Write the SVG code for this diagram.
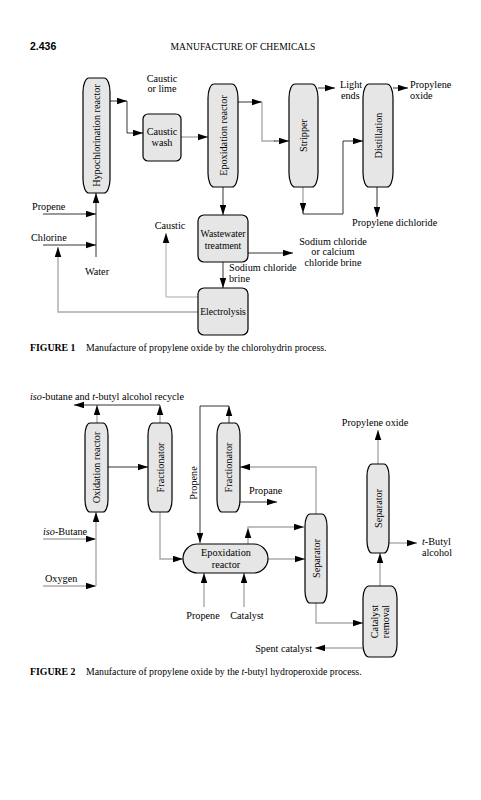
<svg xmlns="http://www.w3.org/2000/svg" width="481" height="800" viewBox="0 0 481 800">
<defs>
<marker id="ah" markerUnits="userSpaceOnUse" markerWidth="11" markerHeight="7" refX="10" refY="3.25" orient="auto"><path d="M0,0 L10,3.25 L0,6.5 z" fill="#000"/></marker>
<style>
text{font-family:"Liberation Serif","Times New Roman",serif;font-size:10.2px;fill:#000}
.c{text-anchor:middle}
.n{font-size:9.7px}
.cap{font-size:9.8px}
.col{fill:#e6e6e6;stroke:#000;stroke-width:1.2}
.box{fill:#e6e6e6;stroke:#000;stroke-width:1.2}
.k{fill:none;stroke:#000;stroke-width:0.8;marker-end:url(#ah)}
.g{fill:none;stroke:#aaa;stroke-width:1.4;marker-end:url(#ah)}
.kn{fill:none;stroke:#000;stroke-width:0.8}
.gn{fill:none;stroke:#aaa;stroke-width:1.4}
</style>
</defs>
<rect width="481" height="800" fill="#fff"/>
<text x="30" y="50" style="font-family:'Liberation Sans',Arial,sans-serif;font-weight:bold;font-size:10.5px">2.436</text>
<text x="243" y="50" class="c" style="font-size:9.6px">MANUFACTURE OF CHEMICALS</text>

<g id="connectors">
<!-- Figure 1 -->
<path class="k" d="M110,101 H127"/>
<path class="k" d="M127,101 V133 H143"/>
<path class="g" d="M181,137 H208"/>
<path class="k" d="M238,102 H262"/>
<path class="gn" d="M262,102 V141 H275"/>
<path class="k" d="M274,141 H289"/>
<path class="k" d="M318,88 H335"/>
<path class="k" d="M393,88 H408"/>
<path class="g" d="M303,187 V213"/>
<path class="k" d="M303,212 V214 H343 V141 H363"/>
<path class="k" d="M377,187 V217"/>
<path class="k" d="M223,187 V215"/>
<path class="k" d="M248,253 H293"/>
<path class="k" d="M223,262 V288"/>
<path class="g" d="M198,297 H166 V233" style="stroke-width:1"/>
<path class="g" d="M198,312 H58 V247"/>
<path class="k" d="M43,214 H96"/>
<path class="k" d="M43,245 H96"/>
<path class="k" d="M96,257 V193"/>
<!-- Figure 2 -->
<path class="g" d="M97,423 V405"/>
<path class="g" d="M160,423 V405"/>
<path class="k" d="M160,405 H74"/>
<path class="k" d="M108,467 H148"/>
<path class="k" d="M229,423 V406"/>
<path class="k" d="M229,406 H200 V543"/>
<path class="k" d="M240,502 H277"/>
<path class="g" d="M316,514 V467 H240"/>
<path class="g" d="M160,512 V559 H183"/>
<path class="g" d="M248,544 V528"/>
<path class="g" d="M248,528 V527 H304"/>
<path class="g" d="M268,559 H305"/>
<path class="g" d="M204,607 V573"/>
<path class="g" d="M244,607 V573"/>
<path class="g" d="M43,539 H96"/>
<path class="g" d="M43,586 H96"/>
<path class="g" d="M96,586 V512"/>
<path class="g" d="M316,603 V623 H363"/>
<path class="g" d="M363,648 H315"/>
<path class="g" d="M380,586 V553"/>
<path class="g" d="M378,464 V430"/>
<path class="g" d="M389,543 H417"/>
</g>

<!-- Figure 1 nodes -->
<g id="hypochlorination-reactor"><rect class="col" x="83" y="78" width="27" height="115" rx="6" ry="14"/><text class="c" transform="translate(96.5,135.5) rotate(-90)" y="3.5">Hypochlorination reactor</text></g>
<g id="caustic-wash"><rect class="box" x="143" y="114" width="38" height="47" rx="5"/><text class="c" x="162" y="135">Caustic</text><text class="c" x="162" y="146">wash</text></g>
<g id="epoxidation-reactor-1"><rect class="col" x="208" y="84" width="30" height="103" rx="6" ry="14"/><text class="c" transform="translate(223,135.5) rotate(-90)" y="3.5">Epoxidation reactor</text></g>
<g id="stripper"><rect class="col" x="289" y="84" width="29" height="103" rx="6" ry="14"/><text class="c" transform="translate(303.5,135.5) rotate(-90)" y="3.5">Stripper</text></g>
<g id="distillation"><rect class="col" x="363" y="84" width="30" height="103" rx="6" ry="14"/><text class="c" transform="translate(378,135.5) rotate(-90)" y="3.5">Distillation</text></g>
<g id="wastewater-treatment"><rect class="box" x="198" y="215" width="50" height="47" rx="6"/><text class="c n" x="223" y="237">Wastewater</text><text class="c n" x="223" y="249">treatment</text></g>
<g id="electrolysis"><rect class="box" x="198" y="288" width="50" height="47" rx="6"/><text class="c n" x="223" y="315">Electrolysis</text></g>

<g id="labels-fig1">
<text class="c" x="162" y="82">Caustic</text>
<text class="c" x="162" y="92">or lime</text>
<text x="340" y="88">Light</text>
<text x="341" y="99">ends</text>
<text x="410" y="88">Propylene</text>
<text x="410" y="99">oxide</text>
<text x="352" y="226">Propylene dichloride</text>
<text class="c" x="170" y="229">Caustic</text>
<text x="32" y="210">Propene</text>
<text x="31" y="241">Chlorine</text>
<text class="c" x="97" y="275">Water</text>
<text x="229" y="271">Sodium chloride</text>
<text x="229" y="282">brine</text>
<text class="c" x="333" y="245">Sodium chloride</text>
<text class="c" x="333" y="255">or calcium</text>
<text class="c" x="333" y="266">chloride brine</text>
</g>
<text class="cap" x="30" y="351"><tspan font-weight="bold">FIGURE 1</tspan></text>
<text class="cap" x="86" y="351">Manufacture of propylene oxide by the chlorohydrin process.</text>

<!-- Figure 2 nodes -->
<g id="oxidation-reactor"><rect class="col" x="85" y="423" width="23" height="89" rx="5" ry="12"/><text class="c" transform="translate(96.5,467.5) rotate(-90)" y="3.5">Oxidation reactor</text></g>
<g id="fractionator-1"><rect class="col" x="148" y="423" width="24" height="89" rx="5" ry="12"/><text class="c" transform="translate(160,467.5) rotate(-90)" y="3.5">Fractionator</text></g>
<g id="fractionator-2"><rect class="col" x="217" y="423" width="23" height="89" rx="5" ry="12"/><text class="c" transform="translate(228.5,467.5) rotate(-90)" y="3.5">Fractionator</text></g>
<g id="epoxidation-reactor-2"><rect class="box" x="183" y="544" width="85" height="29" rx="14.5"/><text class="c" x="226" y="556">Epoxidation</text><text class="c" x="226" y="568">reactor</text></g>
<g id="separator-1"><rect class="col" x="305" y="514" width="22" height="89" rx="5" ry="12"/><text class="c" transform="translate(316,558.5) rotate(-90)" y="3.5">Separator</text></g>
<g id="separator-2"><rect class="col" x="367" y="464" width="22" height="89" rx="5" ry="12"/><text class="c" transform="translate(378,508.5) rotate(-90)" y="3.5">Separator</text></g>
<g id="catalyst-removal"><rect class="col" x="363" y="586" width="34" height="71" rx="6" ry="12"/><text class="c" transform="translate(380,621.5) rotate(-90)"><tspan x="0" y="-2.5">Catalyst</tspan><tspan x="0" y="9">removal</tspan></text></g>

<g id="labels-fig2">
<text x="30" y="400"><tspan font-style="italic">iso</tspan>-butane and <tspan font-style="italic">t</tspan>-butyl alcohol recycle</text>
<text class="c" transform="translate(193,483) rotate(-90)" y="3.5">Propene</text>
<text x="249" y="494">Propane</text>
<text class="c" x="375" y="426">Propylene oxide</text>
<text x="422" y="545"><tspan font-style="italic">t</tspan>-Butyl</text>
<text x="422" y="556">alcohol</text>
<text x="43" y="535"><tspan font-style="italic">iso</tspan>-Butane</text>
<text x="45" y="582">Oxygen</text>
<text class="c" x="203" y="619">Propene</text>
<text class="c" x="247" y="619">Catalyst</text>
<text x="312" y="652" text-anchor="end">Spent catalyst</text>
</g>
<text class="cap" x="30" y="675"><tspan font-weight="bold">FIGURE 2</tspan></text>
<text class="cap" x="86" y="675">Manufacture of propylene oxide by the <tspan font-style="italic">t</tspan>-butyl hydroperoxide process.</text>
</svg>
